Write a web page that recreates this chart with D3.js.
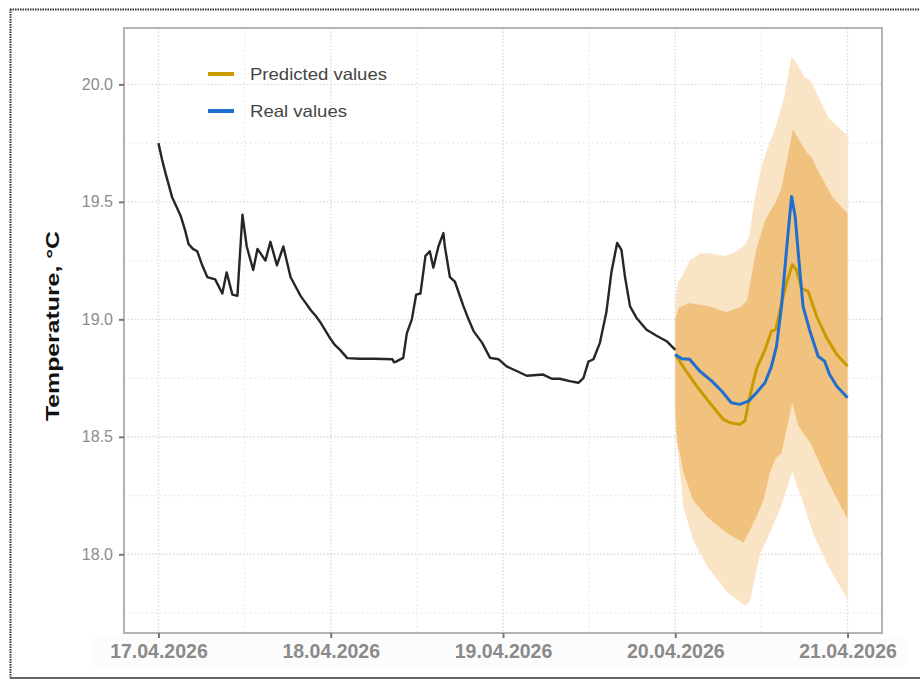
<!DOCTYPE html>
<html>
<head>
<meta charset="utf-8">
<script src="https://cdn.jsdelivr.net/npm/d3@7"></script>
<style>
  html, body { margin: 0; padding: 0; background: #ffffff; }
  svg { display: block; }
  text { font-family: "Liberation Sans", Arial, sans-serif; }
</style>
</head>
<body>
<svg id="chart" width="920" height="680"></svg>
<script>
// Indoor temperature: observed history (hours since 17.04.2026 00:00)
const observedHours = [0, 0.5, 1, 1.5, 1.9, 2.5, 3.1, 3.7, 4.2, 4.8, 5.4, 6.1, 6.8, 7.9, 8.9, 9.5, 10.3, 11.0, 11.7, 12.3, 13.2, 13.8, 14.9, 15.6, 16.5, 17.4, 18.4, 19.1, 19.8, 20.5, 21.2, 21.9, 22.5, 23.2, 23.9, 24.6, 25.3, 26.3, 28, 30, 32.6, 32.8, 33.1, 34.1, 34.6, 35.3, 35.9, 36.5, 37.2, 37.8, 38.3, 39.0, 39.7, 39.9, 40.6, 41.3, 42.5, 43.2, 43.9, 45.1, 46.2, 47.4, 48.5, 49.9, 51.3, 53.6, 54.8, 55.9, 57.3, 58.5, 59.2, 59.9, 60.6, 61.5, 62.4, 63.1, 63.9, 64.5, 65.0, 65.7, 66.6, 68.0, 69.4, 70.8, 72.0];
const observedTemp  = [19.75, 19.68, 19.62, 19.565, 19.52, 19.48, 19.44, 19.38, 19.32, 19.30, 19.29, 19.23, 19.18, 19.17, 19.11, 19.20, 19.105, 19.10, 19.445, 19.31, 19.21, 19.30, 19.25, 19.33, 19.23, 19.31, 19.18, 19.14, 19.10, 19.07, 19.04, 19.015, 18.99, 18.955, 18.92, 18.89, 18.87, 18.835, 18.832, 18.832, 18.83, 18.817, 18.82, 18.836, 18.94, 19.0, 19.105, 19.11, 19.27, 19.29, 19.22, 19.31, 19.367, 19.31, 19.18, 19.16, 19.055, 19.0, 18.95, 18.90, 18.836, 18.83, 18.80, 18.78, 18.76, 18.765, 18.747, 18.747, 18.737, 18.73, 18.75, 18.82, 18.83, 18.90, 19.03, 19.20, 19.325, 19.296, 19.18, 19.055, 19.006, 18.956, 18.93, 18.907, 18.87];

// Forecast day (hours since 20.04.2026 00:00)
const realHours = [0, 0.9, 2.0, 3.4, 5.1, 6.5, 7.8, 9.0, 10.2, 11.3, 12.5, 13.4, 14.1, 14.8, 15.5, 16.2, 16.7, 17.3, 17.8, 18.7, 19.9, 20.8, 21.5, 22.5, 24];
const realTemp  = [18.85, 18.832, 18.83, 18.78, 18.737, 18.694, 18.645, 18.638, 18.652, 18.687, 18.73, 18.80, 18.885, 19.055, 19.296, 19.523, 19.438, 19.225, 19.055, 18.956, 18.843, 18.822, 18.765, 18.715, 18.666];

const predHours = [0, 1.35, 3.0, 4.8, 6.7, 7.6, 9.0, 9.7, 10.4, 11.3, 12.5, 13.4, 14.0, 14.6, 15.5, 16.3, 16.9, 17.6, 18.5, 19.7, 21.1, 22.5, 24];
const predTemp  = [18.85, 18.787, 18.715, 18.645, 18.574, 18.56, 18.553, 18.567, 18.673, 18.787, 18.871, 18.95, 18.956, 19.04, 19.155, 19.233, 19.21, 19.13, 19.12, 19.013, 18.92, 18.85, 18.80];

// Prediction intervals: wide (outer) and narrow (inner)
const outerHiHours = [0, 0.4, 1.1, 2.0, 3.5, 5.0, 6.8, 8.0, 9.5, 10.3, 11.0, 12.0, 13.0, 14.0, 15.2, 16.2, 17.1, 18.0, 18.8, 19.9, 21.3, 24];
const outerHi      = [19.08, 19.16, 19.19, 19.25, 19.28, 19.28, 19.27, 19.28, 19.31, 19.35, 19.50, 19.65, 19.74, 19.82, 19.95, 20.12, 20.08, 20.03, 20.02, 19.95, 19.86, 19.78];
const outerLoHours = [0, 0.2, 0.65, 1.1, 2.5, 4.4, 7.2, 9.8, 10.4, 11.8, 13.3, 14.7, 16.3, 17.8, 19.2, 21.3, 24];
const outerLo      = [18.60, 18.47, 18.35, 18.205, 18.06, 17.95, 17.84, 17.78, 17.80, 18.0, 18.10, 18.20, 18.35, 18.22, 18.09, 17.95, 17.81];
const innerHiHours = [0, 0.5, 2.0, 4.8, 7.1, 9.2, 10.0, 11.3, 12.5, 13.4, 14.0, 14.7, 15.4, 16.4, 17.3, 18.3, 19.0, 20.1, 21.9, 24];
const innerHi      = [19.00, 19.05, 19.07, 19.055, 19.03, 19.055, 19.08, 19.30, 19.42, 19.47, 19.50, 19.55, 19.65, 19.81, 19.76, 19.71, 19.69, 19.62, 19.52, 19.45];
const innerLoHours = [0, 0.2, 0.65, 1.1, 2.5, 4.4, 7.2, 9.5, 10.2, 11.3, 12.3, 13.2, 14.0, 14.8, 16.3, 17.1, 17.8, 18.8, 21.1, 24];
const innerLo      = [18.62, 18.49, 18.43, 18.35, 18.23, 18.16, 18.09, 18.05, 18.09, 18.16, 18.23, 18.35, 18.41, 18.43, 18.645, 18.55, 18.517, 18.475, 18.32, 18.15];

const tempTicks = [18.0, 18.5, 19.0, 19.5, 20.0];
const dayTicks = ["2026-04-17", "2026-04-18", "2026-04-19", "2026-04-20", "2026-04-21"];
const legendLabels = ["Predicted values", "Real values"];

const colors = {
  observed: "#262626",
  predicted: "#c99b00",
  real: "#1f6fd2",
  outer: "#fae4c6",
  inner: "#f1c27d"
};

const svg = d3.select("#chart");
const panel = { left: 124, right: 882, top: 28, bottom: 633 };

const start = new Date(2026, 3, 17, 0, 0);
const forecastStart = new Date(2026, 3, 20, 0, 0);
const hrs = (base, h) => new Date(base.getTime() + h * 3600 * 1000);
const parseDay = d3.timeParse("%Y-%m-%d");

const x = d3.scaleTime()
  .domain([hrs(start, -4.8), hrs(start, 96 + 4.8)])
  .range([panel.left, panel.right]);
const y = d3.scaleLinear()
  .domain([17.665, 20.24])
  .range([panel.bottom, panel.top]);

// outer frame
svg.append("line").attr("x1", 10.5).attr("x2", 10.5).attr("y1", 9).attr("y2", 678)
  .attr("stroke", "#333").attr("stroke-width", 2).attr("stroke-dasharray", "1.5,1");
svg.append("line").attr("x1", 10).attr("x2", 920).attr("y1", 9.5).attr("y2", 9.5)
  .attr("stroke", "#333").attr("stroke-width", 2).attr("stroke-dasharray", "1.5,1");
svg.append("line").attr("x1", 10).attr("x2", 920).attr("y1", 678).attr("y2", 678)
  .attr("stroke", "#666").attr("stroke-width", 2);

// faint strip behind the date labels
svg.append("rect").attr("x", 91).attr("y", 638).attr("width", 815).attr("height", 28)
  .attr("fill", "#fcfcfc");

// grid
const gridG = svg.append("g");
const minorY = d3.range(17.75, 20.3, 0.5).filter(v => y(v) > panel.top && y(v) < panel.bottom);
const majorDays = dayTicks.map(parseDay);
const minorDays = d3.range(0, 4).map(i => hrs(start, i * 24 + 12));
gridG.selectAll(".gy-minor").data(minorY).join("line")
  .attr("x1", panel.left).attr("x2", panel.right)
  .attr("y1", d => y(d)).attr("y2", d => y(d))
  .attr("stroke", "#e6e6e6").attr("stroke-width", 1.2).attr("stroke-dasharray", "1.5,3");
gridG.selectAll(".gx-minor").data(minorDays).join("line")
  .attr("x1", d => x(d)).attr("x2", d => x(d))
  .attr("y1", panel.top).attr("y2", panel.bottom)
  .attr("stroke", "#e6e6e6").attr("stroke-width", 1.2).attr("stroke-dasharray", "1.5,3");
gridG.selectAll(".gy-major").data(tempTicks).join("line")
  .attr("x1", panel.left).attr("x2", panel.right)
  .attr("y1", d => y(d)).attr("y2", d => y(d))
  .attr("stroke", "#dadada").attr("stroke-width", 1.4).attr("stroke-dasharray", "1.5,2");
gridG.selectAll(".gx-major").data(majorDays).join("line")
  .attr("x1", d => x(d)).attr("x2", d => x(d))
  .attr("y1", panel.top).attr("y2", panel.bottom)
  .attr("stroke", "#dadada").attr("stroke-width", 1.4).attr("stroke-dasharray", "1.5,2");

// interval bands
function band(hiH, hi, loH, lo) {
  const upper = hiH.map((h, i) => [x(hrs(forecastStart, h)), y(hi[i])]);
  const lower = loH.map((h, i) => [x(hrs(forecastStart, h)), y(lo[i])]).reverse();
  return d3.line()(upper.concat(lower)) + "Z";
}
svg.append("path").attr("d", band(outerHiHours, outerHi, outerLoHours, outerLo))
  .attr("fill", colors.outer);
svg.append("path").attr("d", band(innerHiHours, innerHi, innerLoHours, innerLo))
  .attr("fill", colors.inner);

// series lines
const line = d3.line().x(d => x(d[0])).y(d => y(d[1]));
const obsData = observedHours.map((h, i) => [hrs(start, h), observedTemp[i]]);
const predData = predHours.map((h, i) => [hrs(forecastStart, h), predTemp[i]]);
const realData = realHours.map((h, i) => [hrs(forecastStart, h), realTemp[i]]);

svg.append("path").datum(obsData).attr("d", line)
  .attr("fill", "none").attr("stroke", colors.observed).attr("stroke-width", 2.4)
  .attr("stroke-linejoin", "round");
svg.append("path").datum(predData).attr("d", line)
  .attr("fill", "none").attr("stroke", colors.predicted).attr("stroke-width", 3)
  .attr("stroke-linejoin", "round");
svg.append("path").datum(realData).attr("d", line)
  .attr("fill", "none").attr("stroke", colors.real).attr("stroke-width", 3)
  .attr("stroke-linejoin", "round");

// panel border
svg.append("rect")
  .attr("x", panel.left).attr("y", panel.top)
  .attr("width", panel.right - panel.left).attr("height", panel.bottom - panel.top)
  .attr("fill", "none").attr("stroke", "#b3b3b3").attr("stroke-width", 2);

// axes
const yAxis = d3.axisLeft(y).tickValues(tempTicks).tickFormat(d3.format(".1f"))
  .tickSize(5).tickPadding(6);
const yG = svg.append("g").attr("transform", `translate(${panel.left},0)`).call(yAxis);
yG.select(".domain").remove();
yG.selectAll(".tick line").attr("stroke", "#777").attr("stroke-width", 2);
yG.selectAll(".tick text").attr("fill", "#8c8c8c").attr("font-size", 16)
  .style("font-family", "Liberation Sans, Arial, sans-serif");

const xAxis = d3.axisBottom(x).tickValues(majorDays).tickFormat(d3.timeFormat("%d.%m.%Y"))
  .tickSize(5).tickPadding(6);
const xG = svg.append("g").attr("transform", `translate(0,${panel.bottom})`).call(xAxis);
xG.select(".domain").remove();
xG.selectAll(".tick line").attr("stroke", "#777").attr("stroke-width", 2);
xG.selectAll(".tick text").attr("fill", "#8a8a8a").attr("font-size", 19.5)
  .attr("font-weight", "bold")
  .style("font-family", "Liberation Sans, Arial, sans-serif");

// y axis title
svg.append("text")
  .attr("transform", `translate(59,326) rotate(-90)`)
  .attr("text-anchor", "middle")
  .attr("font-size", 19).attr("font-weight", "bold").attr("fill", "#111")
  .attr("textLength", 190).attr("lengthAdjust", "spacingAndGlyphs")
  .text("Temperature, °C");

// legend
const legendColors = [colors.predicted, colors.real];
const legendWidths = [137, 97];
const legend = svg.append("g");
legendLabels.forEach((lab, i) => {
  const ly = 74 + i * 37;
  legend.append("line").attr("x1", 208).attr("x2", 234).attr("y1", ly).attr("y2", ly)
    .attr("stroke", legendColors[i]).attr("stroke-width", 4);
  legend.append("text").attr("x", 250).attr("y", ly + 6)
    .attr("font-size", 16.5).attr("fill", "#444")
    .attr("textLength", legendWidths[i]).attr("lengthAdjust", "spacingAndGlyphs")
    .text(lab);
});
</script>
</body>
</html>
